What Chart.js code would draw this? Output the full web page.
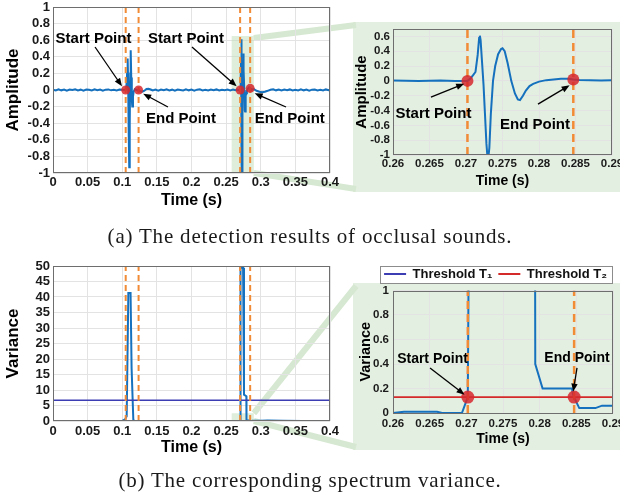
<!DOCTYPE html>
<html><head><meta charset="utf-8">
<script src="https://cdn.jsdelivr.net/npm/chart.js@4.4.0/dist/chart.umd.min.js"></script>
<style>
html,body{margin:0;padding:0;background:#fff;}
#wrap{position:relative;width:620px;height:497px;overflow:hidden;background:#fff;}
canvas{position:absolute;}
.cap{position:absolute;left:0;width:620px;text-align:center;font-family:"Liberation Serif","Times New Roman",serif;font-size:21px;line-height:24px;letter-spacing:0.8px;color:#1a1a1a;white-space:nowrap;}
</style></head><body>
<div id="wrap">
<canvas id="bg" width="620" height="497" style="left:0;top:0"></canvas>
<canvas id="cA" width="340" height="210" style="left:0;top:0"></canvas>
<canvas id="cB" width="268" height="170" style="left:352px;top:20px"></canvas>
<canvas id="cC" width="340" height="202" style="left:0;top:255px"></canvas>
<canvas id="cD" width="268" height="190" style="left:352px;top:258px"></canvas>
<div class="cap" style="top:224px">(a) The detection results of occlusal sounds.</div>
<div class="cap" style="top:468px">(b) The corresponding spectrum variance.</div>
</div>
<script>
// ---------------- data ----------------
const ampTime = [
  0.000,0.004,0.008,0.012,0.016,0.020,0.024,0.028,0.032,0.036,0.040,0.044,0.048,0.052,0.056,0.060,0.064,0.068,0.072,0.076,0.080,0.084,0.088,0.092,0.096,0.100,
  0.1050,0.1060,0.1070,0.1078,0.1085,0.1093,0.1101,0.1108,0.1115,0.1122,0.1130,0.1138,0.1145,0.1155,0.1165,0.1180,0.1200,0.1220,0.1236,0.1260,0.1290,0.1320,0.1350,0.1380,0.1410,0.1440,
  0.148,0.152,0.156,0.160,0.164,0.168,0.172,0.176,0.180,0.184,0.188,0.192,0.196,0.200,0.204,0.208,0.212,0.216,0.220,0.224,0.228,0.232,0.236,0.240,0.244,0.248,0.252,0.256,0.260,0.2635,0.2665,0.2685,
  0.2702,0.2706,0.2710,0.2713,0.2716,0.2718,0.2719,0.2720,0.2722,0.2724,0.2726,0.2728,0.2730,0.2732,0.2734,0.2737,0.2740,0.2744,0.2748,0.2750,0.2753,0.2757,0.2762,0.2767,0.2771,0.2774,0.2778,0.2782,0.2787,0.2792,0.2800,0.2810,0.2820,0.2830,0.2840,0.2847,0.2855,0.2870,0.2885,0.2900,
  0.294,0.298,0.302,0.306,0.310,0.314,0.318,0.322,0.326,0.330,0.334,0.338,0.342,0.346,0.350,0.354,0.358,0.362,0.366,0.370,0.374,0.378,0.382,0.386,0.390,0.394,0.398,0.400
];
const ampValue = [
  0.004,-0.006,0.008,-0.004,0.006,-0.008,0.005,0.000,0.009,-0.005,0.004,-0.007,0.006,0.002,-0.006,0.008,-0.003,0.005,-0.008,0.004,0.007,-0.004,0.003,-0.006,0.005,0.002,
  0.000,0.050,0.200,0.380,0.100,-0.500,-0.930,-0.400,0.200,0.480,0.150,-0.120,-0.200,-0.080,-0.020,0.010,0.004,-0.004,0.000,-0.015,-0.020,-0.008,0.012,0.016,0.006,-0.006,
  0.005,-0.007,0.006,-0.003,0.008,-0.005,0.004,-0.008,0.006,0.001,-0.006,0.007,-0.004,0.005,-0.007,0.004,0.008,-0.005,0.003,-0.006,0.006,-0.003,0.007,-0.006,0.004,-0.004,0.006,-0.005,0.005,-0.002,0.004,-0.003,
  0.000,0.030,0.080,0.120,0.350,0.580,0.610,0.550,0.250,-0.050,-0.450,-0.850,-1.100,-0.900,-0.450,0.000,0.200,0.360,0.430,0.440,0.400,0.240,0.000,-0.170,-0.250,-0.260,-0.200,-0.130,-0.070,-0.040,-0.010,0.010,0.020,0.030,0.030,0.020,0.012,0.010,0.006,0.010,
  -0.010,-0.020,-0.026,-0.020,-0.010,0.002,0.008,-0.004,0.006,-0.006,0.005,-0.003,0.007,-0.006,0.004,-0.005,0.008,-0.004,0.005,-0.007,0.004,0.006,-0.005,0.003,-0.006,0.007,-0.002,0.004
];
const varTime = [0,0.05,0.1,0.104,0.1064,0.1088,0.112,0.1135,0.116,0.118,0.15,0.2,0.26,0.2615,0.266,0.2667,0.2694,0.2702,0.2704,0.2712,0.2745,0.2758,0.2792,0.2794,0.2804,0.2844,0.2846,0.2854,0.2876,0.2885,0.29,0.30,0.31,0.33,0.36,0.4];
const varValue = [0.02,0.02,0.03,0.5,1.5,41.3,41.3,17,0.3,0.05,0.03,0.03,0.0,0.01,0.01,0.0,0.0,0.13,2,49.4,49.4,8.5,8,0.4,0.2,0.2,0.14,0.04,0.04,0.06,0.06,0.05,0.2,0.1,0.02,0.02];
const startTimes = [0.105, 0.2702];
const endTimes = [0.1236, 0.2847];
const pointTimes = [0.105, 0.1236, 0.2702, 0.2847];
const pointAmps = [0, 0, 0, 0.02];
const zoomPointTimes = [0.2702, 0.2847];
const zoomPointAmps = [0, 0.02];
const thresholdT1 = 6.7;
const thresholdT2 = 0.13;
const seriesLabels = ['Threshold T\u2081', 'Threshold T\u2082'];
// tick labels
const timeTicksFull = [0, 0.05, 0.1, 0.15, 0.2, 0.25, 0.3, 0.35, 0.4];
const timeTicksZoom = [0.26, 0.265, 0.27, 0.275, 0.28, 0.285, 0.29];
const ampTicksFull = [-1, -0.8, -0.6, -0.4, -0.2, 0, 0.2, 0.4, 0.6, 0.8, 1];
const ampTicksZoom = [-1, -0.8, -0.6, -0.4, -0.2, 0, 0.2, 0.4, 0.6];
const varTicksFull = [0, 5, 10, 15, 20, 25, 30, 35, 40, 45, 50];
const varTicksZoom = [0, 0.2, 0.4, 0.6, 0.8, 1];

// ---------------- styles ----------------
const BLUE = '#1570be', ORANGE = '#f28b36', RED = 'rgba(214,40,46,0.85)';
const T1C = '#3d3db3', T2C = '#d42a2a', GRID = '#e3e3e3';
Chart.defaults.font.family = '"Liberation Sans", Arial, Helvetica, sans-serif';
Chart.defaults.font.weight = 'bold';
Chart.defaults.color = '#1a1a1a';

const pts = (xs, ys) => xs.map((x, i) => ({x: x, y: ys[i]}));
const vline = (x, y0, y1) => [{x: x, y: y0}, {x: x, y: y1}];
const hline = (y, x0, x1) => [{x: x0, y: y}, {x: x1, y: y}];
const fmt = v => String(+(+v).toFixed(4));

function dashed(times, y0, y1, w, dash) {
  return [...times].map(t => ({data: vline(t, y0, y1), borderColor: ORANGE, borderWidth: w, borderDash: dash, pointRadius: 0, showLine: true}));
}

const boxPlugin = {
  id: 'pbox',
  beforeDatasetsDraw(chart, a, opts) {
    const {ctx} = chart;
    if (opts.rect) {
      const r = opts.rect, x = chart.scales.x, y = chart.scales.y;
      ctx.save(); ctx.fillStyle = 'rgba(195,224,188,0.55)';
      const x0 = x.getPixelForValue(r[0]), x1 = x.getPixelForValue(r[1]);
      const y0 = y.getPixelForValue(r[2]), y1 = y.getPixelForValue(r[3]);
      ctx.fillRect(x0, y1, x1 - x0, y0 - y1); ctx.restore();
    }
  },
  afterDraw(chart) {
    const {ctx, chartArea: c} = chart;
    ctx.save(); ctx.strokeStyle = '#6e6e6e'; ctx.lineWidth = 1;
    ctx.strokeRect(Math.round(c.left) + 0.5, Math.round(c.top) + 0.5, Math.round(c.right - c.left) - 1, Math.round(c.bottom - c.top) - 1);
    ctx.restore();
  }
};

const annotPlugin = {
  id: 'annot',
  afterDatasetsDraw(chart, a, opts) {
    const {ctx} = chart, x = chart.scales.x, y = chart.scales.y;
    (opts.items || []).forEach(it => {
      const x1 = x.getPixelForValue(it.from[0]), y1 = y.getPixelForValue(it.from[1]);
      const x2 = x.getPixelForValue(it.to[0]), y2 = y.getPixelForValue(it.to[1]);
      const ang = Math.atan2(y2 - y1, x2 - x1), L = 8, W = 3.2;
      ctx.save();
      ctx.strokeStyle = '#000'; ctx.fillStyle = '#000'; ctx.lineWidth = 1.3;
      ctx.beginPath(); ctx.moveTo(x1, y1);
      ctx.lineTo(x2 - (L - 1) * Math.cos(ang), y2 - (L - 1) * Math.sin(ang)); ctx.stroke();
      ctx.beginPath(); ctx.moveTo(x2, y2);
      ctx.lineTo(x2 - L * Math.cos(ang) + W * Math.sin(ang), y2 - L * Math.sin(ang) - W * Math.cos(ang));
      ctx.lineTo(x2 - L * Math.cos(ang) - W * Math.sin(ang), y2 - L * Math.sin(ang) + W * Math.cos(ang));
      ctx.closePath(); ctx.fill();
      ctx.font = 'bold ' + opts.size + 'px "Liberation Sans", Arial, sans-serif';
      ctx.textAlign = 'center'; ctx.textBaseline = 'middle';
      ctx.fillText(it.text, x.getPixelForValue(it.at[0]), y.getPixelForValue(it.at[1]));
      ctx.restore();
    });
  }
};

const legendBoxPlugin = {
  id: 'lgbox',
  afterDraw(chart) {
    const lg = chart.legend;
    if (!lg || !lg.options.display || !lg.lineWidths) return;
    const p = lg.options.labels.padding, ctx = chart.ctx;
    const left = lg.right - lg.lineWidths[0] - 4, right = lg.right - p + 5;
    const top = lg.top + p - 1.5, bottom = lg.top + p + 15.5;
    ctx.save(); ctx.strokeStyle = '#8c8c8c'; ctx.lineWidth = 1;
    ctx.strokeRect(Math.round(left) + 0.5, Math.round(top) + 0.5, Math.round(right - left), Math.round(bottom - top));
    ctx.restore();
  }
};

function makeChart(id, cfg) {
  const L = cfg.lay;
  return new Chart(document.getElementById(id), {
    type: 'scatter',
    data: {datasets: cfg.datasets},
    options: {
      responsive: false, animation: false, devicePixelRatio: 1, events: [],
      layout: {padding: L.padding},
      elements: {point: {radius: 0}, line: {tension: 0}},
      plugins: {
        legend: cfg.legend || {display: false},
        tooltip: {enabled: false},
        annot: {items: cfg.annot || [], size: L.annotSize || 15},
        pbox: {rect: cfg.rect || null}
      },
      scales: {
        x: {
          type: 'linear', min: cfg.x[0], max: cfg.x[1],
          ticks: {autoSkip: false, maxRotation: 0, minRotation: 0, padding: L.xTickPad, font: {size: L.tick}, color: '#1a1a1a', callback: fmt},
          grid: {color: GRID, drawTicks: false}, border: {display: false},
          title: {display: true, text: 'Time (s)', font: {size: L.xTitle}, color: '#000', padding: {top: 0, bottom: 0}},
          afterBuildTicks: s => { s.ticks = cfg.xTicks.map(v => ({value: v})); },
          afterFit: s => { s.height = L.xHeight; s.paddingLeft = 0; s.paddingRight = 0; }
        },
        y: {
          type: 'linear', min: cfg.y[0], max: cfg.y[1],
          ticks: {autoSkip: false, padding: L.yTickPad, font: {size: L.tick}, color: '#1a1a1a', callback: fmt},
          grid: {color: GRID, drawTicks: false}, border: {display: false},
          title: {display: true, text: cfg.yTitle, font: {size: L.yTitle}, color: '#000', padding: {top: L.yTitlePad, bottom: 0}},
          afterBuildTicks: s => { s.ticks = cfg.yTicks.map(v => ({value: v})); },
          afterFit: s => { s.width = L.yWidth; s.paddingTop = 0; s.paddingBottom = 0; }
        }
      }
    },
    plugins: [boxPlugin, annotPlugin, legendBoxPlugin]
  });
}

const markerDs = (xs, ys, r) => ({data: pts(xs, ys), showLine: false, pointRadius: r, pointBackgroundColor: RED, pointBorderColor: RED, pointBorderWidth: 0});

// (a) overview
const chartA = makeChart('cA', {
  x: [0, 0.4], y: [-1, 1], xTicks: timeTicksFull, yTicks: ampTicksFull, yTitle: 'Amplitude',
  lay: {padding: {left: 0, top: 7, right: 10, bottom: 0}, yWidth: 53, xHeight: 37, tick: 13, xTitle: 16, yTitle: 17, xTickPad: 2, yTickPad: 3, yTitlePad: 3, annotSize: 15},
  rect: [0.258, 0.29, -1, 0.65],
  datasets: [
    markerDs(pointTimes, pointAmps, 4.5),
    ...dashed([...startTimes, ...endTimes], -1, 1, 2, [6, 4]),
    {data: pts(ampTime, ampValue), borderColor: BLUE, borderWidth: 2, showLine: true, pointRadius: 0}
  ],
  annot: [
    {text: 'Start Point', at: [0.0585, 0.614], from: [0.0607, 0.518], to: [0.0996, 0.045]},
    {text: 'Start Point', at: [0.192, 0.614], from: [0.2007, 0.518], to: [0.2652, 0.045]},
    {text: 'End Point', at: [0.1848, -0.35], from: [0.166, -0.205], to: [0.1302, -0.045]},
    {text: 'End Point', at: [0.342, -0.35], from: [0.3365, -0.205], to: [0.2912, -0.04]}
  ]
});

// (a) zoom
const chartB = makeChart('cB', {
  x: [0.26, 0.29], y: [-1, 0.7], xTicks: timeTicksZoom, yTicks: ampTicksZoom, yTitle: 'Amplitude',
  lay: {padding: {left: 0, top: 9, right: 8, bottom: 0}, yWidth: 41, xHeight: 35, tick: 11.5, xTitle: 14, yTitle: 15, xTickPad: 2, yTickPad: 3, yTitlePad: 1, annotSize: 15},
  datasets: [
    markerDs(zoomPointTimes, zoomPointAmps, 6),
    ...dashed([startTimes[1], endTimes[1]], -1, 0.7, 2.5, [8, 5]),
    {data: pts(ampTime, ampValue), borderColor: BLUE, borderWidth: 2, showLine: true, pointRadius: 0}
  ],
  annot: [
    {text: 'Start Point', at: [0.26555, -0.447], from: [0.2652, -0.219], to: [0.26975, -0.04]},
    {text: 'End Point', at: [0.27945, -0.595], from: [0.27986, -0.313], to: [0.2842, -0.06]}
  ]
});

// (b) overview
const chartC = makeChart('cC', {
  x: [0, 0.4], y: [0, 50], xTicks: timeTicksFull, yTicks: varTicksFull, yTitle: 'Variance',
  lay: {padding: {left: 0, top: 11, right: 10, bottom: 0}, yWidth: 53, xHeight: 36, tick: 13, xTitle: 16, yTitle: 17, xTickPad: 3, yTickPad: 3, yTitlePad: 3},
  rect: [0.258, 0.29, 0, 2.5],
  datasets: [
    ...dashed([...startTimes, ...endTimes], 0, 50, 2, [6, 4]),
    {label: seriesLabels[0], data: hline(thresholdT1, 0, 0.4), borderColor: T1C, borderWidth: 1.5, showLine: true, pointRadius: 0},
    {data: pts(varTime, varValue), borderColor: BLUE, borderWidth: 2, showLine: true, pointRadius: 0}
  ]
});

// (b) zoom
const chartD = makeChart('cD', {
  x: [0.26, 0.29], y: [0, 1], xTicks: timeTicksZoom, yTicks: varTicksZoom, yTitle: 'Variance',
  lay: {padding: {left: 0, top: 3.5, right: 7, bottom: 0}, yWidth: 41, xHeight: 35, tick: 11.5, xTitle: 14, yTitle: 14.5, xTickPad: 4, yTickPad: 4, yTitlePad: 5, annotSize: 14},
  legend: {
    display: true, position: 'top', align: 'end',
    labels: {
      boxWidth: 22, boxHeight: 2, padding: 6, color: '#111', font: {size: 13, weight: 'bold'},
      generateLabels: ch => ch.data.datasets.map((ds, i) => ({text: ds.label, fillStyle: ds.borderColor, strokeStyle: ds.borderColor, lineWidth: 0, hidden: false, datasetIndex: i, fontColor: '#111'})).filter(it => it.text)
    }
  },
  datasets: [
    markerDs(zoomPointTimes, [thresholdT2, thresholdT2], 6.5),
    ...dashed([startTimes[1], endTimes[1]], 0, 1, 2.5, [8, 5]),
    {label: seriesLabels[0], data: hline(thresholdT1, 0.26, 0.29), borderColor: T1C, borderWidth: 1.5, showLine: true, pointRadius: 0},
    {label: seriesLabels[1], data: hline(thresholdT2, 0.26, 0.29), borderColor: T2C, borderWidth: 1.8, showLine: true, pointRadius: 0},
    {data: pts(varTime, varValue), borderColor: BLUE, borderWidth: 2, showLine: true, pointRadius: 0}
  ],
  annot: [
    {text: 'Start Point', at: [0.26539, 0.44], from: [0.26505, 0.368], to: [0.26975, 0.15]},
    {text: 'End Point', at: [0.28509, 0.449], from: [0.28509, 0.368], to: [0.28458, 0.175]}
  ]
});

// zoom connectors and panels (decoration) behind the charts
(function drawBackground() {
  const c = document.getElementById('bg').getContext('2d');
  c.fillStyle = '#e3efe0';
  c.fillRect(353, 22, 267, 170);
  c.fillRect(353, 283, 267, 167);
  c.strokeStyle = '#d6e8d1'; c.lineWidth = 6; c.lineCap = 'butt';
  const band = (x1, y1, x2, y2) => { c.beginPath(); c.moveTo(x1, y1); c.lineTo(x2, y2); c.stroke(); };
  const ax = chartA.scales.x, ay = chartA.scales.y;
  const aR = ax.getPixelForValue(0.29), aT = ay.getPixelForValue(0.65), aB = ay.getPixelForValue(-1);
  band(aR, aT + 2, 356, 25);
  band(aR, aB, 356, 189);
  const cx = chartC.scales.x, cy = chartC.scales.y;
  const cR = cx.getPixelForValue(0.29), cT = cy.getPixelForValue(2.5) + 255, cB = cy.getPixelForValue(0) + 255;
  band(cR, cT, 356, 286);
  band(cR, cB, 356, 447);
})();
</script>
</body></html>
